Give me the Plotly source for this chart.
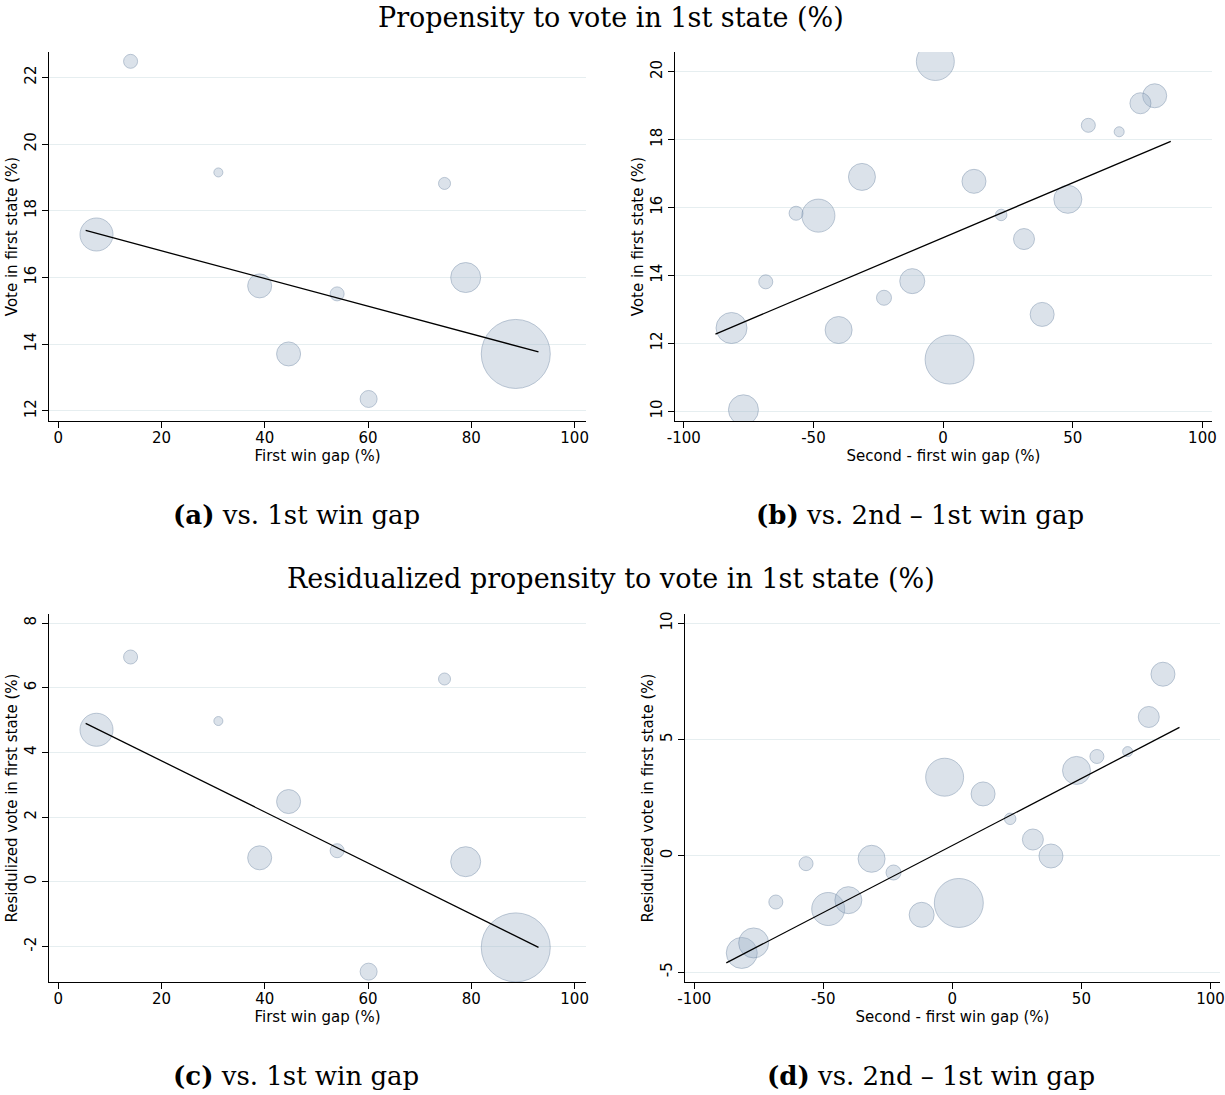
import plotly.graph_objects as go
import math

# ---------------- data ----------------
# Panels (a)/(c): 10 entities
gap1 = [7.4, 14.0, 31.0, 39.0, 44.6, 54.0, 60.1, 74.8, 78.9, 88.6]
vote1 = [17.29, 22.48, 19.15, 15.75, 13.71, 15.51, 12.36, 18.82, 16.00, 13.71]
resid1 = [4.70, 6.95, 4.97, 0.74, 2.48, 0.96, -2.78, 6.27, 0.62, -2.03]
weight1 = [10.9, 1.96, 0.81, 5.76, 5.76, 1.96, 2.89, 1.44, 9.0, 47.6]

# Panels (b)/(d): 20 entities
gap2 = [-3.0, 81.6, 76.1, 56.0, 67.9, -31.3, 11.9, 48.1, -56.7, -48.1,
        22.4, 31.2, -68.4, -11.9, -22.8, 38.2, -81.6, -40.3, 2.5, -77.0]
vote2 = [20.30, 19.29, 19.07, 18.42, 18.23, 16.90, 16.77, 16.24, 15.83, 15.76,
         15.78, 15.07, 13.81, 13.83, 13.34, 12.85, 12.45, 12.39, 11.52, 10.04]
resid2 = [3.38, 7.81, 5.97, 4.27, 4.48, -0.13, 2.66, 3.67, -0.34, -2.29,
          1.59, 0.70, -1.99, -2.54, -0.72, -0.01, -4.18, -1.91, -2.03, -3.75]
weight2 = [14.4, 5.76, 4.41, 1.96, 1.0, 7.29, 5.76, 7.84, 1.96, 10.9,
           1.32, 4.41, 1.96, 6.25, 2.25, 5.76, 9.61, 7.29, 24.0, 9.0]

# Linear fit endpoints
fit_a_x = [5.3, 93.0]
fit_a_y = [17.41, 13.77]
fit_b_x = [-87.8, 87.8]
fit_b_y = [12.27, 17.95]
fit_c_x = [5.3, 93.0]
fit_c_y = [4.90, -2.03]
fit_d_x = [-87.6, 88.0]
fit_d_y = [-4.61, 5.52]

ticks_x1 = [0, 20, 40, 60, 80, 100]
ticks_x2 = [-100, -50, 0, 50, 100]
ticks_ya = [12, 14, 16, 18, 20, 22]
ticks_yb = [10, 12, 14, 16, 18, 20]
ticks_yc = [-2, 0, 2, 4, 6, 8]
ticks_yd = [-5, 0, 5, 10]

# ---------------- styling ----------------
W, H = 1225, 1095
FILL = "rgba(155,175,198,0.5)"
EDGE = "rgba(110,135,165,0.65)"
GRID = "#e6eef0"
SANS = "DejaVu Sans"
SERIF = "DejaVu Serif"
FS = 15


def diam(ws):
    return [10.0 * math.sqrt(w) for w in ws]


def labels(vals):
    return [str(v) for v in vals]  # ASCII hyphen for negatives, as in the original


fig = go.Figure()

panels = [
    ("x", "y", gap1, vote1, weight1, fit_a_x, fit_a_y),
    ("x2", "y2", gap2, vote2, weight2, fit_b_x, fit_b_y),
    ("x3", "y3", gap1, resid1, weight1, fit_c_x, fit_c_y),
    ("x4", "y4", gap2, resid2, weight2, fit_d_x, fit_d_y),
]
for xa, ya, xs, ys, ws, fx, fy in panels:
    fig.add_trace(go.Scatter(
        x=xs, y=ys, mode="markers", xaxis=xa, yaxis=ya,
        marker=dict(size=diam(ws), sizemode="diameter", color=FILL,
                    line=dict(color=EDGE, width=1)),
        showlegend=False, hoverinfo="skip"))
    fig.add_trace(go.Scatter(
        x=fx, y=fy, mode="lines", xaxis=xa, yaxis=ya,
        line=dict(color="black", width=1.3),
        showlegend=False, hoverinfo="skip"))


def xax(domain, rng, tv, title, anchor):
    return dict(domain=domain, range=rng, tickvals=tv, ticktext=labels(tv),
                anchor=anchor, automargin=False,
                showline=True, linecolor="black", linewidth=1.2,
                ticks="outside", ticklen=6, tickcolor="black", tickwidth=1,
                ticklabelstandoff=-3,
                showgrid=False, zeroline=False,
                tickfont=dict(family=SANS, size=FS, color="black"),
                title=dict(text=title, font=dict(family=SANS, size=FS, color="black"),
                           standoff=0))


def yax(domain, rng, tv, title, anchor):
    return dict(domain=domain, range=rng, tickvals=tv, ticktext=labels(tv),
                anchor=anchor, automargin=False,
                showline=True, linecolor="black", linewidth=1.2,
                ticks="outside", ticklen=6, tickcolor="black", tickwidth=1,
                showgrid=True, gridcolor=GRID, gridwidth=1, zeroline=False,
                tickangle=-90, ticklabelstandoff=0,
                tickfont=dict(family=SANS, size=FS, color="black"),
                title=dict(text=title, font=dict(family=SANS, size=FS, color="black"),
                           standoff=0))


def px(a, b, total):
    return [a / total, b / total]


def py(top, bottom):
    return [1 - bottom / H, 1 - top / H]


dom_a_x = px(49, 586, W)
dom_b_x = px(675, 1212, W)
dom_c_x = px(49, 586, W)
dom_d_x = px(685, 1220, W)
dom_top = py(52, 421)
dom_bot = py(614, 982)

fig.update_layout(
    template="none",
    width=W, height=H,
    margin=dict(l=0, r=0, t=0, b=0, pad=0),
    paper_bgcolor="white", plot_bgcolor="white",
    xaxis=xax(dom_a_x, [-1.8, 102.2], ticks_x1, "First win gap (%)", "y"),
    yaxis=yax(dom_top, [11.7, 22.76], ticks_ya, "Vote in first state (%)", "x"),
    xaxis2=xax(dom_b_x, [-103.4, 103.7], ticks_x2, "Second - first win gap (%)", "y2"),
    yaxis2=yax(dom_top, [9.71, 20.58], ticks_yb, "Vote in first state (%)", "x2"),
    xaxis3=xax(dom_c_x, [-1.8, 102.2], ticks_x1, "First win gap (%)", "y3"),
    yaxis3=yax(dom_bot, [-3.1, 8.28], ticks_yc, "Residulized vote in first state (%)", "x3"),
    xaxis4=xax(dom_d_x, [-103.6, 103.7], ticks_x2, "Second - first win gap (%)", "y4"),
    yaxis4=yax(dom_bot, [-5.43, 10.4], ticks_yd, "Residulized vote in first state (%)", "x4"),
)

annots = [
    ("Propensity to vote in 1st state (%)", 611, 17, 27),
    ("Residualized propensity to vote in 1st state (%)", 611, 578, 27),
    ("<b>(a)</b> vs. 1st win gap", 296, 515, 26),
    ("<b>(b)</b> vs. 2nd – 1st win gap", 920, 515, 26),
    ("<b>(c)</b> vs. 1st win gap", 296, 1076, 26),
    ("<b>(d)</b> vs. 2nd – 1st win gap", 931, 1076, 26),
]
for text, cx, cy, fs in annots:
    fig.add_annotation(text=text, x=cx / W, y=1 - cy / H, xref="paper", yref="paper",
                       xanchor="center", yanchor="middle", showarrow=False,
                       font=dict(family=SERIF, size=fs, color="black"))

fig.write_html("out.html", config={"displayModeBar": False},
               post_script="document.body.style.margin='0';document.body.style.overflow='hidden';")
